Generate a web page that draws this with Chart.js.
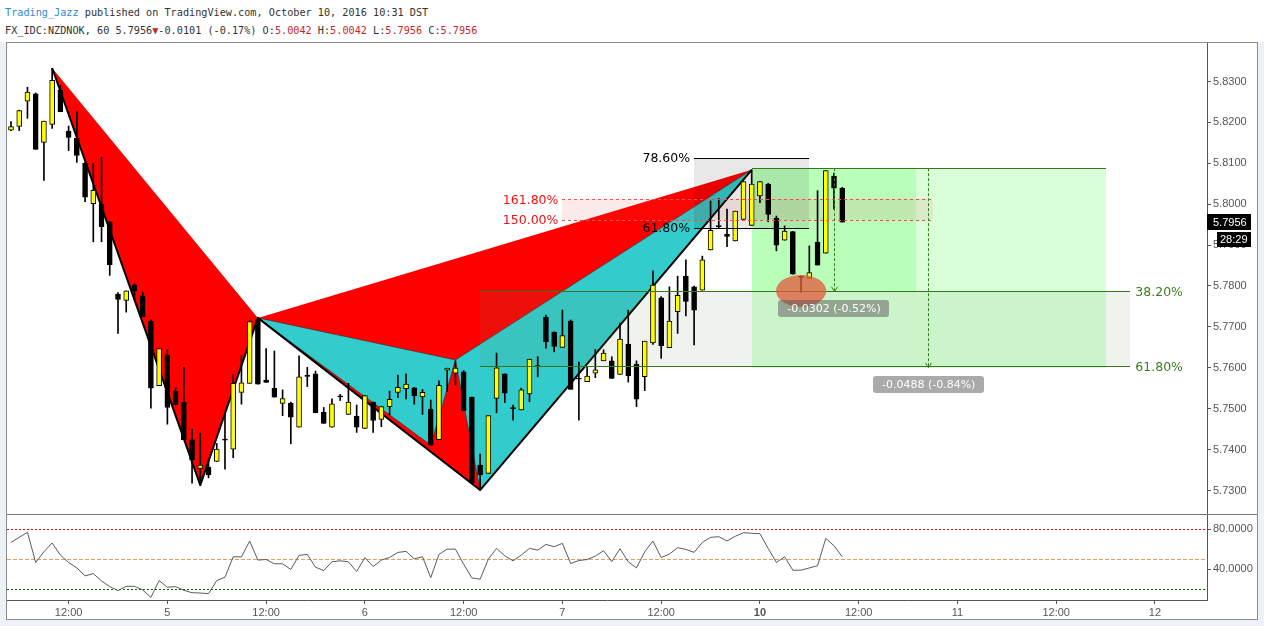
<!DOCTYPE html>
<html><head><meta charset="utf-8">
<title>FX_IDC:NZDNOK 60</title>
<script src="https://cdn.jsdelivr.net/npm/chart.js@4.4.1/dist/chart.umd.min.js"></script>
<style>
html,body{margin:0;padding:0;width:1264px;height:626px;overflow:hidden;background:#fff;position:relative;}
#hdr1,#hdr2{position:absolute;left:5px;font-family:"DejaVu Sans Mono",monospace;font-size:10.2px;line-height:12px;color:#333;white-space:pre;}
#hdr1{top:7px}#hdr2{top:25px}
.u{color:#2f8bd0}.r{color:#c62828}
#outer{position:absolute;left:0;top:42px;width:1264px;height:584px;background:#eef1f5}
#panel{position:absolute;left:6px;top:42px;width:1250px;height:576px;background:#fff;border:1px solid #8c8c8c}
#sep{position:absolute;left:7px;top:514px;width:1250px;height:1px;background:#777}
#main{position:absolute;left:7px;top:43px}
#rsi{position:absolute;left:7px;top:515px}
</style></head>
<body>
<div id="hdr1"><span class="u">Trading_Jazz</span> published on TradingView.com, October 10, 2016 10:31 DST</div>
<div id="hdr2">FX_IDC:NZDNOK, 60 5.7956<span class="r">▼</span>-0.0101 (-0.17%) O:<span class="r">5.0042</span> H:<span class="r">5.0042</span> L:<span class="r">5.7956</span> C:<span class="r">5.7956</span></div>
<div id="outer"></div>
<div id="panel"></div>
<canvas id="main" width="1250" height="471"></canvas>
<div id="sep"></div>
<canvas id="rsi" width="1250" height="104"></canvas>
<script>
// ---------- data (bar index = hourly bar, 0 = Oct 4 05:00) ----------
const opens  = [5.8181,5.8190,5.8252,5.8270,5.8151,5.8195,5.8279,5.8179,5.8161,5.8100,
5.8001,5.8000,5.7957,5.7780,5.7765,5.7802,5.7776,5.7714,5.7556,5.7631,
5.7543,5.7516,5.7424,5.7354,5.7357,5.7371,5.7425,5.7401,5.7540,5.7562,
5.7717,5.7570,5.7550,5.7513,5.7513,5.7455,5.7581,5.7585,5.7491,5.7455,
5.7530,5.7486,5.7482,5.7452,5.7516,5.7474,5.7505,5.7540,5.7549,5.7551,
5.7529,5.7499,5.7424,5.7594,5.7587,5.7590,5.7528,5.7362,5.7342,5.7525,
5.7585,5.7501,5.7497,5.7536,5.7604,5.7724,5.7687,5.7650,5.7714,5.7574,
5.7566,5.7587,5.7617,5.7617,5.7584,5.7658,5.7609,5.7578,5.7661,5.7771,
5.7649,5.7737,5.7824,5.7798,5.7790,5.7888,5.7946,5.7926,5.7910,5.7963,
5.7948,5.8020,5.8049,5.7966,5.7912,5.7933,5.7822,5.7819,5.7907,5.7880,
5.8069,5.8039];
const highs  = [5.8202,5.8230,5.8286,5.8272,5.8203,5.8332,5.8291,5.8191,5.8226,5.8104,
5.8100,5.8115,5.7957,5.7784,5.7788,5.7805,5.7785,5.7717,5.7647,5.7644,
5.7552,5.7601,5.7450,5.7440,5.7375,5.7415,5.7489,5.7584,5.7629,5.7715,
5.7722,5.7647,5.7641,5.7546,5.7516,5.7629,5.7601,5.7592,5.7503,5.7524,
5.7535,5.7562,5.7509,5.7532,5.7516,5.7505,5.7543,5.7582,5.7585,5.7552,
5.7547,5.7521,5.7568,5.7599,5.7617,5.7593,5.7529,5.7389,5.7483,5.7636,
5.7585,5.7509,5.7550,5.7621,5.7627,5.7729,5.7688,5.7741,5.7717,5.7614,
5.7603,5.7645,5.7644,5.7627,5.7709,5.7741,5.7617,5.7665,5.7837,5.7774,
5.7798,5.7824,5.7864,5.7800,5.7873,5.8008,5.8014,5.7988,5.7983,5.8055,
5.8084,5.8055,5.8051,5.7971,5.7947,5.7933,5.7825,5.7898,5.8033,5.8082,
5.8076,5.8041];
const lows   = [5.8180,5.8180,5.8210,5.8134,5.8058,5.8185,5.8226,5.8131,5.8102,5.8006,
5.7908,5.7908,5.7826,5.7684,5.7736,5.7766,5.7725,5.7501,5.7556,5.7462,
5.7509,5.7424,5.7318,5.7313,5.7331,5.7371,5.7352,5.7380,5.7511,5.7562,
5.7560,5.7564,5.7528,5.7483,5.7414,5.7455,5.7554,5.7490,5.7464,5.7455,
5.7520,5.7486,5.7442,5.7452,5.7442,5.7456,5.7485,5.7527,5.7524,5.7511,
5.7486,5.7411,5.7424,5.7542,5.7558,5.7495,5.7319,5.7301,5.7342,5.7490,
5.7515,5.7472,5.7497,5.7517,5.7578,5.7648,5.7639,5.7650,5.7547,5.7472,
5.7566,5.7576,5.7617,5.7574,5.7584,5.7565,5.7505,5.7544,5.7657,5.7623,
5.7649,5.7684,5.7727,5.7656,5.7790,5.7888,5.7941,5.7896,5.7910,5.7963,
5.7948,5.8004,5.7957,5.7886,5.7912,5.7829,5.7784,5.7819,5.7851,5.7880,
5.7988,5.7956];
const closes = [5.8190,5.8229,5.8274,5.8134,5.8203,5.8303,5.8226,5.8163,5.8119,5.8017,
5.8034,5.7945,5.7852,5.7767,5.7788,5.7788,5.7725,5.7550,5.7647,5.7503,
5.7509,5.7424,5.7375,5.7362,5.7338,5.7401,5.7423,5.7562,5.7563,5.7713,
5.7560,5.7564,5.7528,5.7525,5.7479,5.7578,5.7579,5.7490,5.7464,5.7512,
5.7529,5.7516,5.7455,5.7532,5.7471,5.7505,5.7523,5.7552,5.7560,5.7532,
5.7540,5.7411,5.7557,5.7599,5.7599,5.7495,5.7319,5.7338,5.7483,5.7600,
5.7538,5.7500,5.7546,5.7621,5.7603,5.7664,5.7652,5.7679,5.7547,5.7572,
5.7580,5.7595,5.7636,5.7574,5.7670,5.7581,5.7523,5.7665,5.7802,5.7654,
5.7714,5.7777,5.7762,5.7741,5.7864,5.7936,5.7945,5.7921,5.7983,5.8055,
5.8049,5.8055,5.7975,5.7900,5.7934,5.7829,5.7821,5.7833,5.7851,5.8082,
5.8039,5.7956];
const rsiValues = [66.9,72.0,77.0,46.8,57.5,66.3,54.2,46.8,41.4,33.4,
35.7,28.4,22.7,18.7,23.0,23.0,19.3,11.9,28.7,22.0,
22.7,19.0,16.6,16.3,15.6,28.7,32.1,52.5,52.5,68.3,
49.2,49.8,45.5,45.5,39.8,53.9,54.9,42.1,38.8,47.5,
48.5,47.5,37.8,51.8,42.8,49.2,51.8,56.9,57.9,50.5,
52.5,31.7,54.9,60.2,60.2,45.1,31.4,30.1,50.2,60.9,
53.5,48.5,54.2,60.9,59.2,64.9,62.6,65.9,45.8,48.8,
49.8,53.2,58.5,47.8,60.6,47.5,41.4,57.5,68.3,51.8,
55.2,61.6,59.9,56.9,66.9,72.0,72.6,68.3,73.0,76.6,
76.0,75.6,60.9,46.8,52.5,39.1,39.1,41.4,43.5,70.9,
63.6,52.5];

const timeTickIdx = [7,19,31,43,55,67,79,91,103,115,127,139];
const timeLabels  = ['12:00','5','12:00','6','12:00','7','12:00','10','12:00','11','12:00','12'];
const priceTicks  = [5.73,5.74,5.75,5.76,5.77,5.78,5.79,5.80,5.81,5.82,5.83];
const rsiTicks    = [40,80];
const rsiLevels   = [80,50,20];

// XABCD patterns (bar index, price)
const patRedIdx   = [5,23,30,57,90];
const patRedPrice = [5.8333,5.7313,5.7722,5.7301,5.8084];
const patCyanIdx  = [30,51,54,57,90];
const patCyanPrice= [5.7722,5.7411,5.7619,5.7301,5.8084];

// fib retracements
const fibBlackLabels = ['78.60%','61.80%'];
const fibBlackPrices = [5.8112,5.7941];
const fibBlackSpan   = [83,97];
const fibRedLabels   = ['161.80%','150.00%'];
const fibRedPrices   = [5.8012,5.7961];
const fibRedSpan     = [67,112];
const fibGreenLabels = ['38.20%','61.80%'];
const fibGreenPrices = [5.7786,5.7603];
const fibGreenSpan   = [57,136];

// price ranges
const rangeStart   = 90;
const rangeEnds    = [110,133];
const rangeTop     = 5.8088;
const rangeBottoms = [5.7786,5.7600];
const rangeLabels  = ['-0.0302 (-0.52%)','-0.0488 (-0.84%)'];

// marker ellipse: centre (bar, price) and half extents (bars, price)
const markerCenter = [96,5.7788];
const markerHalf   = [3.05,0.0039];

const lastPrice = 5.7956;
const countdown = '28:29';

const xMin = -0.486, xMax = 145.32;

// ---------- helpers ----------
const snap = v => Math.round(v - 0.5) + 0.5;
const AXIS_FONT = {family:'"Liberation Sans", Arial, sans-serif', size:11};

const overlay = {
  id:'overlay',
  beforeDatasetsDraw(chart){
    const {ctx, chartArea:a, scales:{x,y}} = chart;
    const px = v => x.getPixelForValue(v), py = v => y.getPixelForValue(v);
    ctx.save();
    ctx.beginPath(); ctx.rect(a.left,a.top,a.right-a.left,a.bottom-a.top); ctx.clip();
    const tri = (I,P,k,fill) => {
      ctx.beginPath();
      k.forEach((j,n)=>{const X=px(I[j]),Y=py(P[j]); n?ctx.lineTo(X,Y):ctx.moveTo(X,Y);});
      ctx.closePath(); ctx.fillStyle=fill; ctx.fill();
    };
    tri(patRedIdx,patRedPrice,[0,1,2],'#ff0000');
    tri(patRedIdx,patRedPrice,[2,3,4],'#ff0000');
    tri(patCyanIdx,patCyanPrice,[0,1,2],'rgba(0,255,255,0.8)');
    tri(patCyanIdx,patCyanPrice,[2,3,4],'rgba(0,255,255,0.8)');
    // cyan outlines
    ctx.strokeStyle='rgba(0,60,60,0.55)'; ctx.lineWidth=1;
    [[0,1,2],[2,3,4]].forEach(k=>{
      ctx.beginPath();
      k.forEach((j,n)=>{const X=px(patCyanIdx[j]),Y=py(patCyanPrice[j]); n?ctx.lineTo(X,Y):ctx.moveTo(X,Y);});
      ctx.closePath(); ctx.stroke();
    });
    // red pattern legs
    ctx.beginPath();
    patRedIdx.forEach((v,n)=>{const X=px(v),Y=py(patRedPrice[n]); n?ctx.lineTo(X,Y):ctx.moveTo(X,Y);});
    ctx.strokeStyle='#000'; ctx.lineWidth=2; ctx.lineJoin='round'; ctx.stroke();
    // translucent zones
    const zone = (span,p1,p2,fill) => {
      const x1=Math.round(px(span[0])), x2=Math.round(px(span[1]));
      const y1=Math.round(py(p1)), y2=Math.round(py(p2));
      ctx.fillStyle=fill; ctx.fillRect(x1,Math.min(y1,y2),x2-x1,Math.abs(y2-y1));
    };
    zone(fibGreenSpan,fibGreenPrices[0],fibGreenPrices[1],'rgba(110,140,90,0.11)');
    zone([rangeStart,rangeEnds[1]],rangeTop,rangeBottoms[1],'rgba(0,255,0,0.15)');
    zone([rangeStart,rangeEnds[0]],rangeTop,rangeBottoms[0],'rgba(0,255,0,0.15)');
    zone(fibBlackSpan,fibBlackPrices[0],fibBlackPrices[1],'rgba(0,0,0,0.09)');
    zone(fibRedSpan,fibRedPrices[0],fibRedPrices[1],'rgba(230,60,60,0.10)');
    ctx.restore();
  },
  afterDatasetsDraw(chart){
    const {ctx, chartArea:a, scales:{x,y}} = chart;
    const px = v => x.getPixelForValue(v), py = v => y.getPixelForValue(v);
    ctx.save();
    ctx.beginPath(); ctx.rect(a.left,a.top,a.right-a.left,a.bottom-a.top); ctx.clip();
    const hline = (span,p,color,dash) => {
      const Y=snap(py(p));
      ctx.beginPath(); ctx.setLineDash(dash); ctx.strokeStyle=color; ctx.lineWidth=1;
      ctx.moveTo(Math.round(px(span[0])),Y); ctx.lineTo(Math.round(px(span[1])),Y); ctx.stroke();
    };
    fibBlackPrices.forEach(p=>hline(fibBlackSpan,p,'#000',[]));
    fibRedPrices.forEach(p=>hline(fibRedSpan,p,'#f05050',[3,3]));
    fibGreenPrices.forEach(p=>hline(fibGreenSpan,p,'#38761d',[]));
    hline([rangeStart,rangeEnds[1]],rangeTop,'#38761d',[]);
    // range arrows
    rangeEnds.forEach((e,k)=>{
      const X=snap(px((rangeStart+e)/2)), Y1=py(rangeTop), Y2=py(rangeBottoms[k]);
      ctx.beginPath(); ctx.setLineDash([3,2]); ctx.strokeStyle='#3a7d1f'; ctx.lineWidth=1;
      ctx.moveTo(X,Y1); ctx.lineTo(X,Y2); ctx.stroke();
      ctx.setLineDash([]);
      ctx.beginPath(); ctx.moveTo(X-3,Y2-5); ctx.lineTo(X,Y2); ctx.lineTo(X+3,Y2-5); ctx.stroke();
    });
    ctx.setLineDash([]);
    // marker ellipse
    const cx=px(markerCenter[0]), cy=py(markerCenter[1]);
    const rx=px(markerCenter[0]+markerHalf[0])-cx, ry=py(markerCenter[1]-markerHalf[1])-cy;
    ctx.beginPath(); ctx.ellipse(cx,cy,rx,ry,0,0,Math.PI*2);
    ctx.fillStyle='rgba(225,90,60,0.75)'; ctx.fill();
    // fib labels
    ctx.font='12.5px "DejaVu Sans", sans-serif'; ctx.textBaseline='middle';
    ctx.textAlign='right'; ctx.fillStyle='#000';
    fibBlackLabels.forEach((t,k)=>ctx.fillText(t,px(fibBlackSpan[0])-4,py(fibBlackPrices[k])+0.5));
    ctx.fillStyle='#f01010';
    fibRedLabels.forEach((t,k)=>ctx.fillText(t,px(fibRedSpan[0])-4,py(fibRedPrices[k])+1));
    ctx.textAlign='left'; ctx.fillStyle='#3c7d1e';
    fibGreenLabels.forEach((t,k)=>ctx.fillText(t,px(fibGreenSpan[1])+5,py(fibGreenPrices[k])+1));
    // range labels
    ctx.font='11px "DejaVu Sans", sans-serif'; ctx.textAlign='center';
    rangeEnds.forEach((e,k)=>{
      const X=px((rangeStart+e)/2), Y=py(rangeBottoms[k]);
      const w=ctx.measureText(rangeLabels[k]).width+18;
      ctx.beginPath(); ctx.roundRect(Math.round(X-w/2),Math.round(Y+8),Math.round(w),17,3);
      ctx.fillStyle='rgba(85,85,85,0.5)'; ctx.fill();
      ctx.fillStyle='#fff'; ctx.fillText(rangeLabels[k],X,Math.round(Y+8)+9);
    });
    ctx.restore();
  },
  afterDraw(chart){
    const {ctx, chartArea:a, scales:{y}} = chart;
    const Y=y.getPixelForValue(lastPrice);
    ctx.save();
    ctx.fillStyle='#000';
    ctx.fillRect(a.right,Math.round(Y-8),44,16);
    ctx.fillRect(a.right+10,Math.round(Y+10),34,15);
    ctx.fillStyle='#fff'; ctx.font='11px "Liberation Sans", Arial, sans-serif';
    ctx.textBaseline='middle'; ctx.textAlign='left';
    ctx.fillText(lastPrice.toFixed(4),a.right+6,Math.round(Y)+0.5);
    ctx.fillText(countdown,a.right+13,Math.round(Y+10)+8);
    ctx.restore();
  }
};

const bodyColors = opens.map((o,i)=> closes[i] >= o ? '#ffff00' : '#000000');

new Chart(document.getElementById('main'), {
  type:'bar',
  data:{datasets:[
    {label:'body', data: opens.map((o,i)=>({x:i,y:[o,closes[i]]})),
     backgroundColor: bodyColors, borderColor:'#000', borderWidth:1, borderSkipped:false,
     barThickness:5, grouped:false, minBarLength:1, order:0},
    {label:'wick', data: lows.map((l,i)=>({x:i,y:[l,highs[i]]})),
     backgroundColor:'#000', borderWidth:0, barThickness:1, grouped:false, order:1}
  ]},
  options:{
    responsive:false, animation:false, events:[],
    layout:{padding:0},
    plugins:{legend:{display:false}, tooltip:{enabled:false}},
    scales:{
      x:{type:'linear', min:xMin, max:xMax, display:false, offset:false, grid:{offset:false}},
      y:{position:'right', min:5.72425, max:5.83941,
         afterBuildTicks: s => { s.ticks = priceTicks.map(v=>({value:v})); },
         afterFit: s => { s.width = 50; s.paddingTop = 0; s.paddingBottom = 0; },
         ticks:{autoSkip:false, padding:2, color:'#555', font:AXIS_FONT, callback:v=>Number(v).toFixed(4)},
         grid:{drawOnChartArea:false, drawTicks:true, tickLength:4, color:'#555'},
         border:{display:true, color:'#555'}}
    }
  },
  plugins:[overlay]
});

const rsiPlugin = {
  id:'rsiLevels',
  beforeDatasetsDraw(chart){
    const {ctx, chartArea:a, scales:{y}} = chart;
    const styles = [['#ff0000',[2,2]],['#e0a060',[4,2]],['#006400',[2,2]]];
    ctx.save();
    rsiLevels.forEach((lv,k)=>{
      const Y=snap(y.getPixelForValue(lv));
      ctx.beginPath(); ctx.strokeStyle=styles[k][0]; ctx.setLineDash(styles[k][1]); ctx.lineWidth=1;
      ctx.moveTo(a.left,Y); ctx.lineTo(a.right,Y); ctx.stroke();
    });
    ctx.restore();
  }
};

new Chart(document.getElementById('rsi'), {
  type:'line',
  data:{datasets:[{data: rsiValues.map((v,i)=>({x:i,y:v})), borderColor:'#5a5a5a', borderWidth:1,
    pointRadius:0, tension:0, fill:false}]},
  options:{
    responsive:false, animation:false, events:[],
    layout:{padding:0},
    plugins:{legend:{display:false}, tooltip:{enabled:false}},
    scales:{
      x:{type:'linear', min:xMin, max:xMax, offset:false, position:'bottom',
         afterBuildTicks: s => { s.ticks = timeTickIdx.map(v=>({value:v})); },
         afterFit: s => { s.height = 19; s.paddingLeft = 0; s.paddingRight = 0; },
         ticks:{autoSkip:false, maxRotation:0, minRotation:0, padding:2, color:'#555',
           font: c => ({family:'"Liberation Sans", Arial, sans-serif', size:11,
                        weight: timeLabels[c.index]==='10' ? 'bold' : 'normal'}),
           callback:(v,i)=>timeLabels[i]},
         grid:{display:true, drawOnChartArea:false, drawTicks:true, tickLength:4, color:'#555'},
         border:{display:true, color:'#555'}},
      y:{position:'right', min:9.3, max:94.3,
         afterBuildTicks: s => { s.ticks = rsiTicks.map(v=>({value:v})); },
         afterFit: s => { s.width = 50; s.paddingTop = 0; s.paddingBottom = 0; },
         ticks:{autoSkip:false, padding:2, color:'#555', font:AXIS_FONT, callback:v=>Number(v).toFixed(4)},
         grid:{drawOnChartArea:false, drawTicks:true, tickLength:4, color:'#555'},
         border:{display:true, color:'#555'}}
    }
  },
  plugins:[rsiPlugin]
});
</script>
</body></html>
